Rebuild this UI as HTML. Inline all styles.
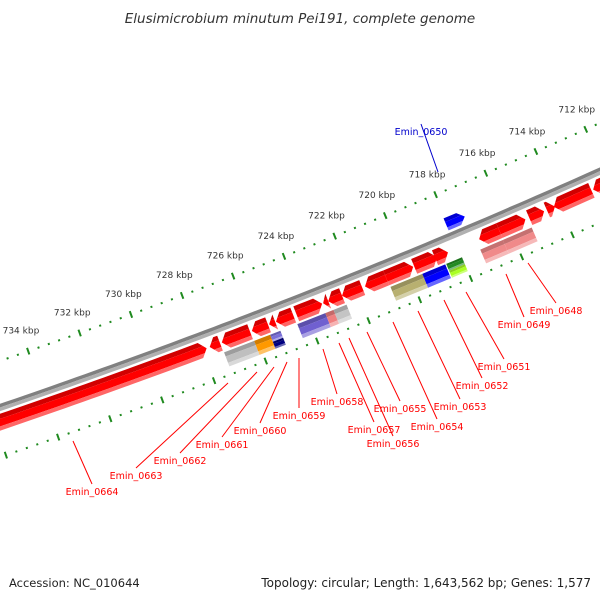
<!DOCTYPE html>
<html><head><meta charset="utf-8"><style>
html,body{margin:0;padding:0;background:#fff;}
svg{display:block;font-family:"DejaVu Sans","Liberation Sans",sans-serif;}
</style></head><body>
<svg id="map" width="600" height="600" viewBox="0 0 600 600" xmlns="http://www.w3.org/2000/svg">
<rect width="600" height="600" fill="#fff"/>
<text x="300" y="23" text-anchor="middle" font-style="italic" font-size="13.5" fill="#333">Elusimicrobium minutum Pei191, complete genome</text>
<g id="ticks"></g>
<g id="backbone"></g>
<g id="feats"></g>
<g id="labels"></g>
<text x="9" y="587" font-size="11.5" fill="#222">Accession: NC_010644</text>
<text x="591" y="587" text-anchor="end" font-size="12" fill="#222">Topology: circular; Length: 1,643,562 bp; Genes: 1,577</text>
</svg>
<script>
// ring B (CDS) features: start/end kbp, direction
const cdsStart=[727.84,727.32,726.15,725.45,725.17,724.47,723.34,723.10,722.56,721.77,720.83,719.77,718.83,718.40,716.37,715.34,714.60,714.17,712.72,711.67];
const cdsEnd  =[738.4,727.72,727.25,726.08,725.41,725.14,724.35,723.30,723.10,722.56,721.66,720.83,719.73,718.91,717.17,716.37,715.19,714.49,714.21,712.65];
const cdsDir  =[-1,1,1,1,1,1,-1,1,1,1,1,-1,-1,-1,1,-1,-1,-1,1,1];
// ring C (COG) features
const cogStart=[726.13,725.51,725.11,725.11,723.36,723.04,722.53,719.56,718.66,718.00,718.00,716.39,715.25];
const cogEnd  =[727.30,726.13,725.51,725.51,724.45,723.36,723.04,720.81,719.56,718.62,718.62,717.28,716.39];
const cogColor=["#bfbfbf","#ff9900","#7a70d8","#000080","#7060d0","#f08080","#c4c4c4","#b8b070","#0000ff","#228b22","#aaff22","#f08a8a","#f08a8a"];
const cogPart =[0,0,1,2,0,0,0,0,0,1,2,0,0];
// ring A (reverse strand) features
const revStart=[717.33];
const revEnd  =[718.07];
const revDir  =[-1];
// tick labels (kbp)
const tickLabels=[712,714,716,718,720,722,724,726,728,730,732,734];
// gene labels
const geneNames=["Emin_0648","Emin_0649","Emin_0650","Emin_0651","Emin_0652","Emin_0653","Emin_0654","Emin_0655","Emin_0656","Emin_0657","Emin_0658","Emin_0659","Emin_0660","Emin_0661","Emin_0662","Emin_0663","Emin_0664"];
const geneLabelX=[556,524,421,504,482,460,437,400,393,374,337,299,260,222,180,136,92];
const geneLabelY=[314,328,135,370,389,410,430,412,447,433,405,419,434,448,464,479,495];
const geneLineEnd=[[528,263],[506,274],[438,172],[466,292],[444,300],[418,311],[393,322],[367,332],[349,338],[339,343],[323,349],[299,358],[287,362],[274,367],[257,372],[228,383],[73,441]];

const NS="http://www.w3.org/2000/svg";
const CX=-2262, CY=-6217, R0=7000, K=1.026*2*Math.PI/1643.562, A0=68.53*Math.PI/180;
function ang(k){return A0+(k-724)*K;}
function pt(k,r){const a=ang(k);return [CX+r*Math.cos(a),CY+r*Math.sin(a)];}
function mk(tag,attrs,parent){const e=document.createElementNS(NS,tag);for(const k in attrs)e.setAttribute(k,attrs[k]);parent.appendChild(e);return e;}
function hex(c){return [parseInt(c.substr(1,2),16),parseInt(c.substr(3,2),16),parseInt(c.substr(5,2),16)];}
function mixc(c,t,f){const a=hex(c);return "rgb("+a.map((v,i)=>Math.round(v+(t[i]-v)*f)).join(",")+")";}
function arcPts(k1,k2,r){const n=Math.max(2,Math.ceil(Math.abs(k2-k1)*3));const p=[];for(let i=0;i<=n;i++)p.push(pt(k1+(k2-k1)*i/n,r));return p;}

// ticks
const tg=document.getElementById('ticks');
const RT1=6956, RT2=7047;
for(let i=0;i<=125;i++){
  const k=700+i*0.4;
  const major=(i%5===0);
  [RT1,RT2].forEach((r,j)=>{
    const len=major?3.5:1;
    const p1=pt(k,r-len),p2=pt(k,r+len);
    const l=mk('line',{x1:p1[0],y1:p1[1],x2:p2[0],y2:p2[1],stroke:'#1f8a1f','stroke-width':2},tg);
    
    
  });
}
tickLabels.forEach(k=>{
  const p=pt(k,RT1-22);
  const t=mk('text',{x:p[0],y:p[1]+3,'text-anchor':'middle','font-size':'9',fill:'#333'},tg);
  t.textContent=k+' kbp';
  
  
});

// backbone
const bb=document.getElementById('backbone');
function arcPath(k1,k2,r){return 'M'+arcPts(k1,k2,r).map(p=>p[0].toFixed(1)+','+p[1].toFixed(1)).join('L');}
let e1=mk('path',{d:arcPath(700,750,R0-1.75),stroke:'#808080','stroke-width':3.5,fill:'none'},bb);


let e2=mk('path',{d:arcPath(700,750,R0+1.75),stroke:'#b0b0b0','stroke-width':3.5,fill:'none'},bb);



// features
const fg=document.getElementById('feats');
function drawFeature(s,e,dir,r0,r1,color,name){
  const g=mk('g',{},fg);
  
  
  const rm=(r0+r1)/2, half=(r1-r0)/2;
  const h=dir===0?0:Math.min(0.24,e-s);
  function edge(r){
    const f=Math.abs(r-rm)/half;
    if(dir>0) return e-h*f;
    if(dir<0) return s+h*f;
    return null;
  }
  const bands=[[r0,r0+(r1-r0)*0.3,mixc(color,[0,0,0],0.18)],[r0+(r1-r0)*0.3,r0+(r1-r0)*0.75,mixc(color,[0,0,0],0)],[r0+(r1-r0)*0.75,r1,mixc(color,[255,255,255],0.4)]];
  bands.forEach(b=>{
    const ra=b[0],rb=b[1];
    const sa=dir<0?edge(ra):s, ea=dir>0?edge(ra):e;
    const sb=dir<0?edge(rb):s, eb=dir>0?edge(rb):e;
    let pts=arcPts(sa,ea,ra);
    if(dir>0&&ra<rm&&rb>rm)pts.push(pt(e,rm));
    pts=pts.concat(arcPts(eb,sb,rb));
    if(dir<0&&ra<rm&&rb>rm)pts.push(pt(s,rm));
    const p=mk('polygon',{points:pts.map(q=>q[0].toFixed(2)+','+q[1].toFixed(2)).join(' '),fill:b[2]},g);
    
    
  });
}
for(let i=0;i<cdsStart.length;i++) drawFeature(cdsStart[i],cdsEnd[i],cdsDir[i],R0+6,R0+22,'#ff0000','cds-feature');
for(let i=0;i<cogStart.length;i++){
  let r0=R0+24,r1=R0+39;
  if(cogPart[i]===1)r1=R0+31.5;
  if(cogPart[i]===2)r0=R0+31.5;
  drawFeature(cogStart[i],cogEnd[i],0,r0,r1,cogColor[i],'cog-feature');
}
for(let i=0;i<revStart.length;i++) drawFeature(revStart[i],revEnd[i],revDir[i],R0-19,R0-6,'#0000ff','reverse-feature');

// labels
const lg=document.getElementById('labels');
geneNames.forEach((n,i)=>{
  const col=n==="Emin_0650"?"#0000cc":"#ff0000";
  const l=mk('line',{x1:geneLabelX[i],y1:geneLabelY[i]-11,x2:geneLineEnd[i][0],y2:geneLineEnd[i][1],stroke:col,'stroke-width':1},lg);
  
  
  const t=mk('text',{x:geneLabelX[i],y:geneLabelY[i],'text-anchor':'middle','font-size':'9.5',fill:col},lg);
  t.textContent=n;
  
  
});
</script>
</body></html>
